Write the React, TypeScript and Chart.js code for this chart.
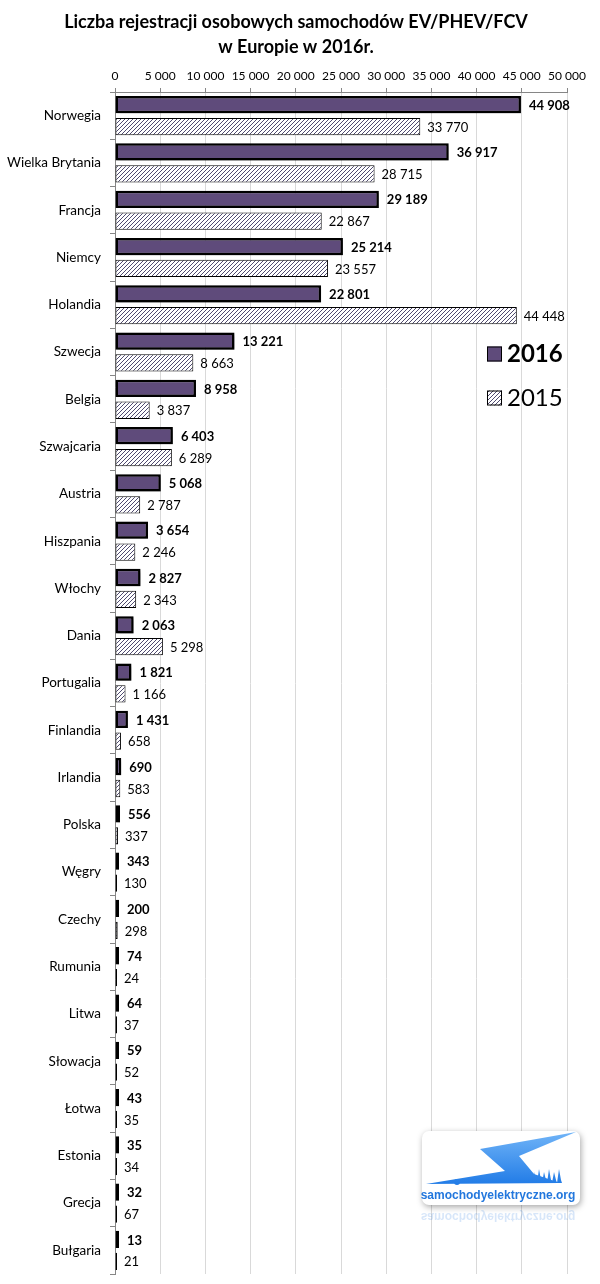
import React, { useEffect, useRef } from "react";
import { Chart, registerables } from "chart.js";

Chart.register(...registerables);

const countries = [
  "Norwegia", "Wielka Brytania", "Francja", "Niemcy", "Holandia", "Szwecja",
  "Belgia", "Szwajcaria", "Austria", "Hiszpania", "Włochy", "Dania",
  "Portugalia", "Finlandia", "Irlandia", "Polska", "Węgry", "Czechy",
  "Rumunia", "Litwa", "Słowacja", "Łotwa", "Estonia", "Grecja", "Bułgaria",
];

const reg2016 = [
  44908, 36917, 29189, 25214, 22801, 13221, 8958, 6403, 5068, 3654, 2827, 2063,
  1821, 1431, 690, 556, 343, 200, 74, 64, 59, 43, 35, 32, 13,
];

const reg2015 = [
  33770, 28715, 22867, 23557, 44448, 8663, 3837, 6289, 2787, 2246, 2343, 5298,
  1166, 658, 583, 337, 130, 298, 24, 37, 52, 35, 34, 67, 21,
];

const seriesNames = ["2016", "2015"];
const axisMax = 50000;
const axisStep = 5000;

const titleLines = [
  "Liczba rejestracji osobowych samochodów EV/PHEV/FCV",
  "w Europie w 2016r.",
];

const FONT = "Lato, 'Open Sans', sans-serif";
const PURPLE = "#5f4b7b";

const fmt = (n: number) =>
  String(Math.round(n)).replace(/\B(?=(\d{3})+(?!\d))/g, " ");

function makeHatch(): CanvasPattern | string {
  const c = document.createElement("canvas");
  c.width = 4;
  c.height = 4;
  const g = c.getContext("2d");
  if (!g) return "#ffffff";
  g.fillStyle = "#ffffff";
  g.fillRect(0, 0, 4, 4);
  g.strokeStyle = "#3b3560";
  g.lineWidth = 0.9;
  g.beginPath();
  g.moveTo(-1, 5);
  g.lineTo(5, -1);
  g.moveTo(-1, 1);
  g.lineTo(1, -1);
  g.moveTo(3, 5);
  g.lineTo(5, 3);
  g.stroke();
  const p = g.createPattern(c, "repeat");
  return p || "#ffffff";
}

// Soft drop shadow under the 2016 bars
const shadowPlugin = {
  id: "barShadow",
  beforeDatasetDraw(chart: any, args: any) {
    if (args.index !== 0) return;
    const ctx = chart.ctx;
    ctx.save();
    ctx.shadowColor = "rgba(0,0,0,0.45)";
    ctx.shadowBlur = 4;
    ctx.shadowOffsetX = 2;
    ctx.shadowOffsetY = 2;
  },
  afterDatasetDraw(chart: any, args: any) {
    if (args.index !== 0) return;
    chart.ctx.restore();
  },
};

// Value labels at the end of each bar
const valueLabels = {
  id: "valueLabels",
  afterDatasetsDraw(chart: any) {
    const ctx = chart.ctx;
    ctx.save();
    ctx.textBaseline = "middle";
    ctx.textAlign = "left";
    ctx.fillStyle = "#000";
    chart.data.datasets.forEach((ds: any, i: number) => {
      const meta = chart.getDatasetMeta(i);
      ctx.font = (i === 0 ? "bold " : "") + "13px " + FONT;
      meta.data.forEach((bar: any, j: number) => {
        const { x, y } = bar.getProps(["x", "y"], true);
        ctx.fillText(fmt(ds.data[j]), x + (i === 0 ? 8 : 7), y + 1);
      });
    });
    ctx.restore();
  },
};

// Title, legend and the site badge
const decorations = {
  id: "decorations",
  afterDraw(chart: any) {
    const ctx = chart.ctx;
    const W = chart.width;
    ctx.save();
    // title
    ctx.fillStyle = "#000";
    ctx.textAlign = "center";
    ctx.textBaseline = "middle";
    ctx.font = "bold 18px " + FONT;
    ctx.fillText(titleLines[0], W / 2 - 4, 22);
    ctx.fillText(titleLines[1], W / 2 - 4, 47);

    // legend
    const hatch = chart.$hatch;
    const items = [
      { y: 354, fill: PURPLE, bold: true },
      { y: 398, fill: hatch, bold: false },
    ];
    items.forEach((it, k) => {
      ctx.fillStyle = it.fill;
      ctx.fillRect(487, it.y - 7.5, 15, 15);
      ctx.strokeStyle = "#000";
      ctx.lineWidth = 1;
      ctx.strokeRect(487.5, it.y - 7, 14, 14);
      ctx.fillStyle = "#000";
      ctx.textAlign = "left";
      ctx.font = (it.bold ? "bold " : "") + "24px " + FONT;
      ctx.fillText(seriesNames[k], 507, it.y);
    });

    // badge
    const bx = 422, by = 1131, bw = 158, bh = 74;
    ctx.save();
    ctx.shadowColor = "rgba(0,0,0,0.35)";
    ctx.shadowBlur = 6;
    ctx.shadowOffsetX = 1;
    ctx.shadowOffsetY = 2;
    ctx.fillStyle = "#fff";
    ctx.beginPath();
    ctx.roundRect(bx, by, bw, bh, 7);
    ctx.fill();
    ctx.restore();

    const grad = ctx.createLinearGradient(0, 1133, 0, 1186);
    grad.addColorStop(0, "#6fb3f7");
    grad.addColorStop(1, "#1f7ae6");
    ctx.fillStyle = grad;
    ctx.beginPath();
    ctx.moveTo(576, 1132);
    ctx.lineTo(480, 1149);
    ctx.lineTo(505, 1171);
    ctx.lineTo(426, 1184);
    ctx.lineTo(560, 1183);
    ctx.lineTo(534, 1174);
    ctx.lineTo(519, 1156);
    ctx.closePath();
    ctx.fill();
    ctx.beginPath();
    ctx.arc(518, 1176, 6, Math.PI, 2 * Math.PI);
    ctx.fill();
    ctx.beginPath();
    ctx.arc(457, 1182, 3, 0, 2 * Math.PI);
    ctx.fill();
    // flames
    ctx.beginPath();
    ctx.moveTo(530, 1183);
    for (let k = 0; k < 6; k++) {
      const fx = 532 + k * 5;
      ctx.lineTo(fx, 1183);
      ctx.lineTo(fx + 2, 1172 - (k % 2) * 3);
      ctx.lineTo(fx + 4, 1180);
    }
    ctx.lineTo(562, 1183);
    ctx.closePath();
    ctx.fill();

    ctx.fillStyle = "#2277dd";
    ctx.font = "bold 12px 'Liberation Sans', Arial, sans-serif";
    ctx.textAlign = "center";
    ctx.textBaseline = "alphabetic";
    ctx.fillText("samochodyelektryczne.org", 498, 1199);
    // faded mirror of the badge text
    ctx.save();
    ctx.globalAlpha = 0.18;
    ctx.translate(0, 2 * 1206);
    ctx.scale(1, -1);
    ctx.fillText("samochodyelektryczne.org", 498, 1199);
    ctx.restore();
    ctx.restore();
  },
};

export default function App() {
  const ref = useRef<HTMLCanvasElement | null>(null);

  useEffect(() => {
    document.body.style.margin = "0";
    const canvas = ref.current;
    if (!canvas) return;
    const hatch = makeHatch();

    const chart = new Chart(canvas, {
      type: "bar",
      data: {
        labels: countries,
        datasets: [
          {
            label: seriesNames[0],
            data: reg2016,
            backgroundColor: PURPLE,
            borderColor: "#000",
            borderWidth: 2.5,
            borderSkipped: false,
            minBarLength: 4,
          },
          {
            label: seriesNames[1],
            data: reg2015,
            backgroundColor: hatch as any,
            borderColor: "#000",
            borderWidth: 1,
            borderSkipped: false,
            minBarLength: 2,
          },
        ],
      },
      options: {
        indexAxis: "y",
        responsive: false,
        animation: false,
        devicePixelRatio: 1,
        categoryPercentage: 0.925,
        barPercentage: 0.79,
        layout: { padding: { top: 60, right: 33, bottom: 10, left: 0 } },
        plugins: {
          legend: { display: false },
          title: { display: false },
          tooltip: { enabled: false },
        },
        scales: {
          x: {
            position: "top",
            min: 0,
            max: axisMax,
            ticks: {
              stepSize: axisStep,
              color: "#000",
              font: { family: FONT, size: 12 },
              padding: 5,
              callback: (v: any) => fmt(Number(v)),
              maxRotation: 0,
              autoSkip: false,
            },
            grid: {
              color: "#d9d9d9",
              tickColor: "#868686",
              tickLength: 4,
              drawTicks: true,
            },
            border: { color: "#868686" },
            afterFit: (s: any) => {
              s.height = 32;
            },
          },
          y: {
            offset: true,
            ticks: {
              color: "#000",
              font: { family: FONT, size: 13.5 },
              padding: 9,
              autoSkip: false,
            },
            grid: {
              offset: true,
              drawOnChartArea: false,
              tickLength: 5,
              color: "#868686",
            },
            border: { color: "#868686" },
            afterFit: (s: any) => {
              s.width = 115;
              s.paddingTop = 0;
              s.paddingBottom = 0;
            },
          },
        },
      },
      plugins: [shadowPlugin, valueLabels, decorations],
    } as any);
    (chart as any).$hatch = hatch;
    chart.draw();

    return () => chart.destroy();
  }, []);

  return (
    <div style={{ width: 600, height: 1284 }}>
      <canvas ref={ref} width={600} height={1284} style={{ display: "block" }} />
    </div>
  );
}
